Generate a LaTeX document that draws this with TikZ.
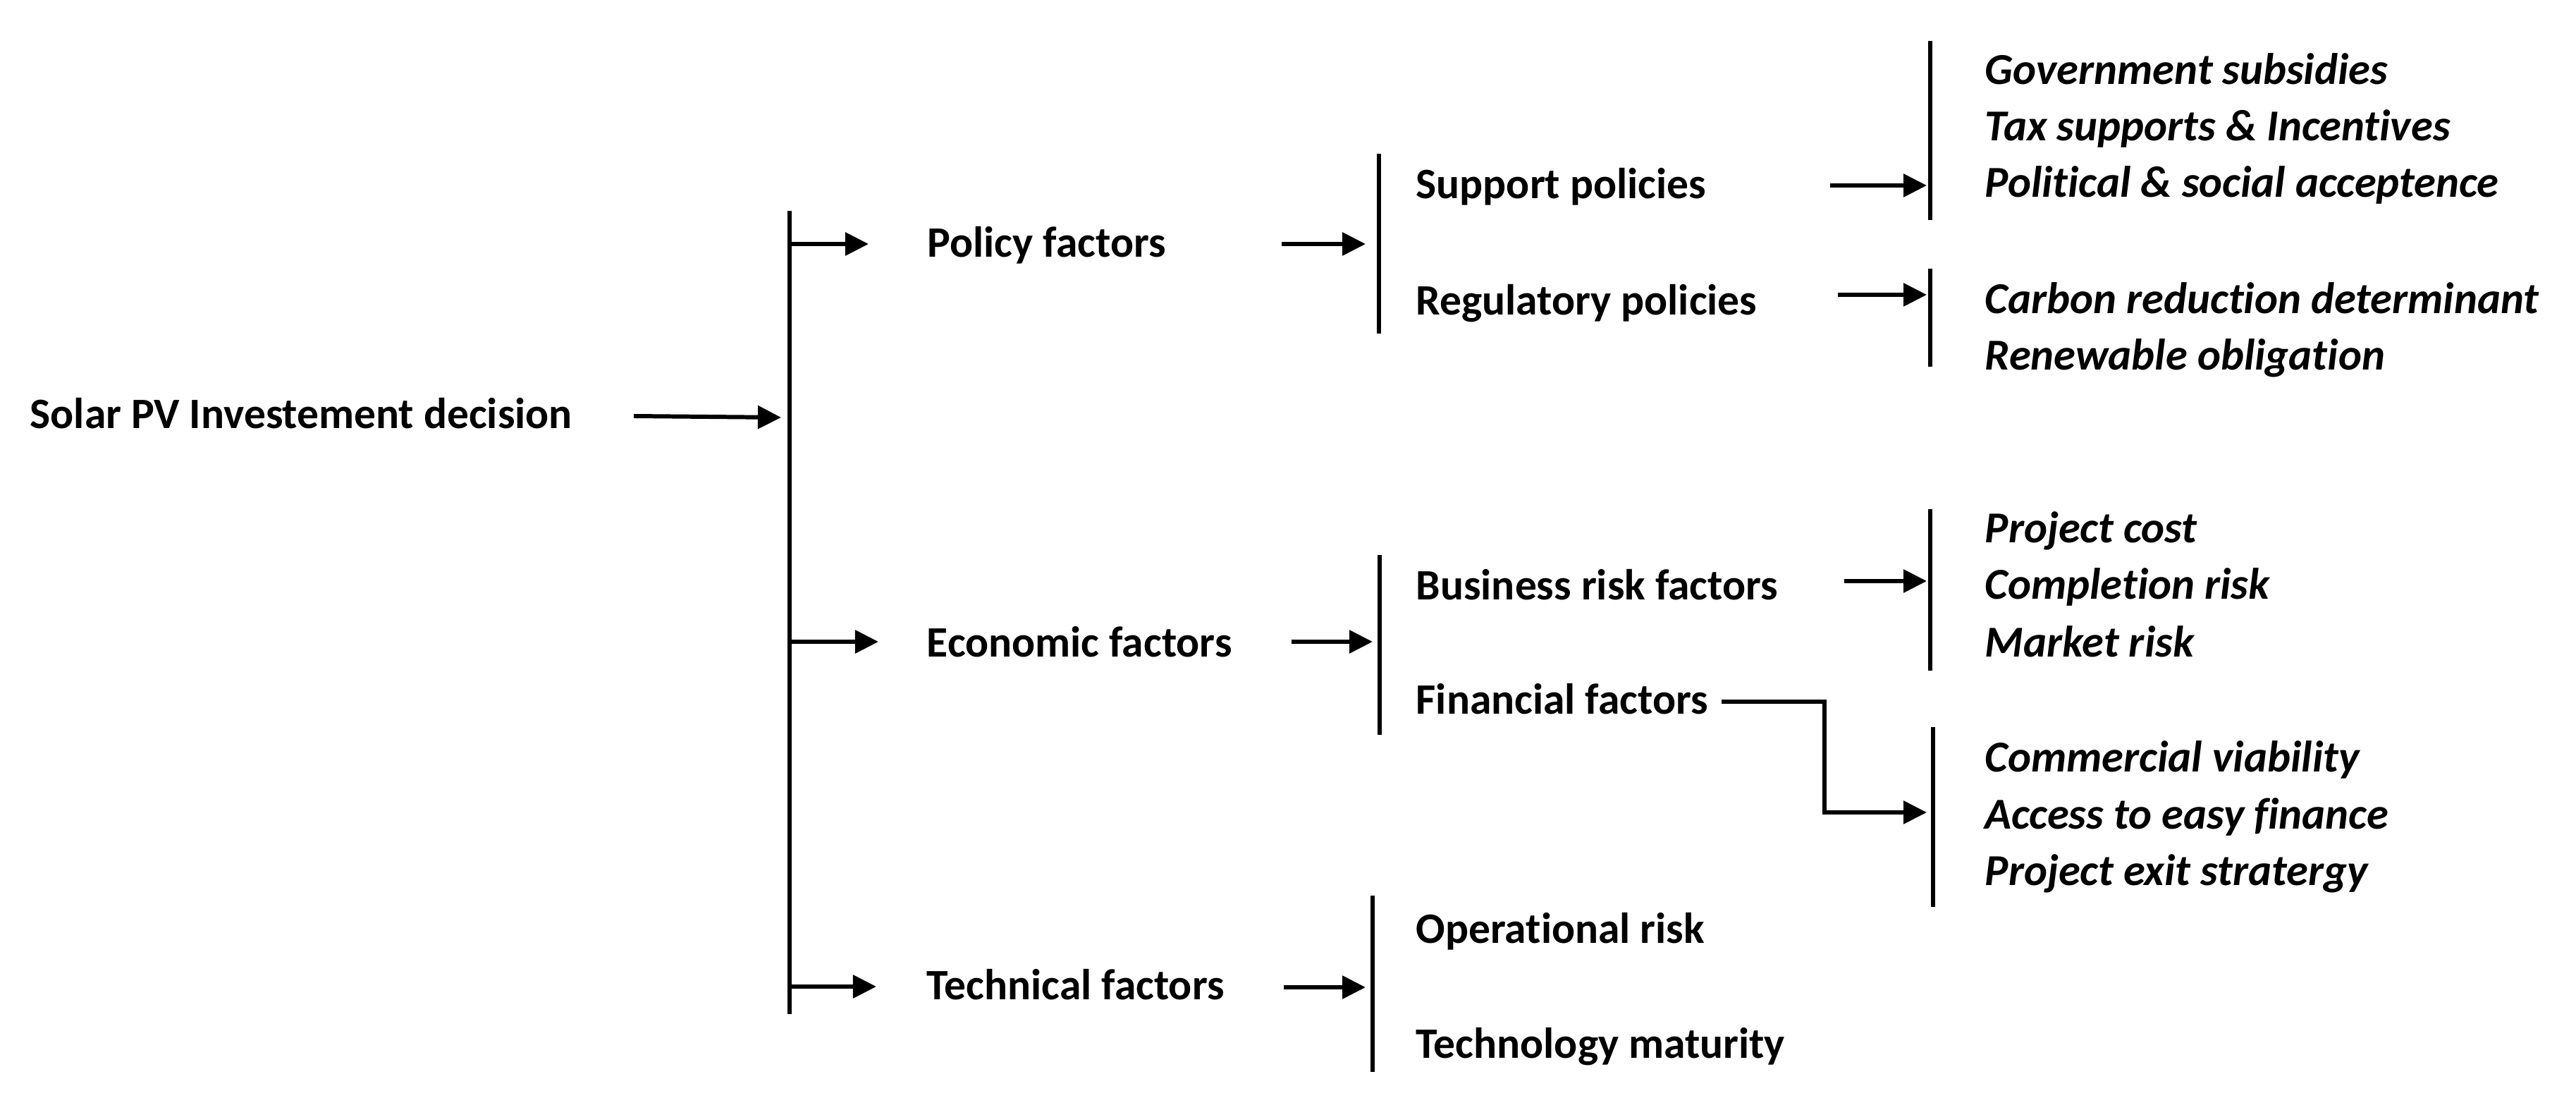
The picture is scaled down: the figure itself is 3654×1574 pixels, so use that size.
\documentclass[tikz,border=0pt]{standalone}
\usepackage{fontspec}
\setmainfont[Ligatures=NoCommon]{Carlito}
\usetikzlibrary{arrows.meta}
\begin{document}
\begin{tikzpicture}[x=0.01cm,y=-0.01cm,
  lbl/.style={anchor=base west,inner sep=0pt,font=\fontsize{17.5}{21}\selectfont\bfseries},
  leaf/.style={anchor=base west,inner sep=0pt,font=\fontsize{17.8}{21}\selectfont\bfseries\itshape},
  bar/.style={line width=1.7pt},
  arr/.style={line width=1.7pt,-{Triangle[length=0.33cm,width=0.32cm]}}]
\useasboundingbox (0,0) rectangle (3654,1574);
% texts
\node[lbl] (root) at (42,608) {Solar PV Investement decision};
\node[lbl] (pol) at (1315,365) {Policy factors};
\node[lbl] (eco) at (1314,932) {Economic factors};
\node[lbl] (tec) at (1314,1418) {Technical factors};
\node[lbl] (sup) at (2008,282) {Support policies};
\node[lbl] (reg) at (2008,447) {Regulatory policies};
\node[lbl] (bus) at (2008,851) {Business risk factors};
\node[lbl] (fin) at (2008,1013) {Financial factors};
\node[lbl] (ope) at (2008,1338) {Operational risk};
\node[lbl] (tmat) at (2008,1500) {Technology maturity};
\node[leaf] (gov) at (2815,120) {Government subsidies};
\node[leaf] (tax) at (2815,200) {Tax supports \& Incentives};
\node[leaf] (polit) at (2815,280) {Political \& social acceptence};
\node[leaf] (carb) at (2815,445) {Carbon reduction determinant};
\node[leaf] (ren) at (2815,525) {Renewable obligation};
\node[leaf] (pc) at (2815,770) {Project cost};
\node[leaf] (cr) at (2815,850) {Completion risk};
\node[leaf] (mr) at (2815,932) {Market risk};
\node[leaf] (cv) at (2815,1095) {Commercial viability};
\node[leaf] (acc) at (2815,1176) {Access to easy finance};
\node[leaf] (pes) at (2815,1256) {Project exit stratergy};
% bars
\coordinate (b0t) at (1120,299); \coordinate (b0b) at (1120,1438);
\coordinate (b1t) at (1956,218); \coordinate (b1b) at (1956,473);
\coordinate (b2t) at (1957,787); \coordinate (b2b) at (1957,1042);
\coordinate (b3t) at (1947,1270); \coordinate (b3b) at (1947,1520);
\coordinate (b4t) at (2738,58); \coordinate (b4b) at (2738,312);
\coordinate (b5t) at (2738,381); \coordinate (b5b) at (2738,520);
\coordinate (b6t) at (2738,722); \coordinate (b6b) at (2738,951);
\coordinate (b7t) at (2742,1031); \coordinate (b7b) at (2742,1286);
\foreach \i in {0,...,7} {\draw[bar] (b\i t) -- (b\i b);}
% arrow ends
\coordinate (rS) at (899,590); \coordinate (rE) at (1108,592);
\coordinate (p0) at (1120,346); \coordinate (p1) at (1232,346);
\coordinate (e0) at (1120,910); \coordinate (e1) at (1246,910);
\coordinate (t0) at (1120,1399); \coordinate (t1) at (1243,1399);
\coordinate (p2) at (1818,346); \coordinate (p3) at (1937,346);
\coordinate (e2) at (1832,910); \coordinate (e3) at (1947,910);
\coordinate (t2) at (1821,1400); \coordinate (t3) at (1937,1400);
\coordinate (s0) at (2596,263); \coordinate (s1) at (2733,263);
\coordinate (g0) at (2607,418); \coordinate (g1) at (2733,418);
\coordinate (u0) at (2616,824); \coordinate (u1) at (2733,824);
\coordinate (f0) at (2442,995); \coordinate (fc) at (2588,995); \coordinate (fd) at (2588,1152); \coordinate (f1) at (2733,1152);
\draw[arr] (rS) -- (rE);
\draw[arr] (p0) -- (p1);
\draw[arr] (e0) -- (e1);
\draw[arr] (t0) -- (t1);
\draw[arr] (p2) -- (p3);
\draw[arr] (e2) -- (e3);
\draw[arr] (t2) -- (t3);
\draw[arr] (s0) -- (s1);
\draw[arr] (g0) -- (g1);
\draw[arr] (u0) -- (u1);
\draw[arr,line join=miter] (f0) -- (fc) -- (fd) -- (f1);
\end{tikzpicture}
\end{document}
